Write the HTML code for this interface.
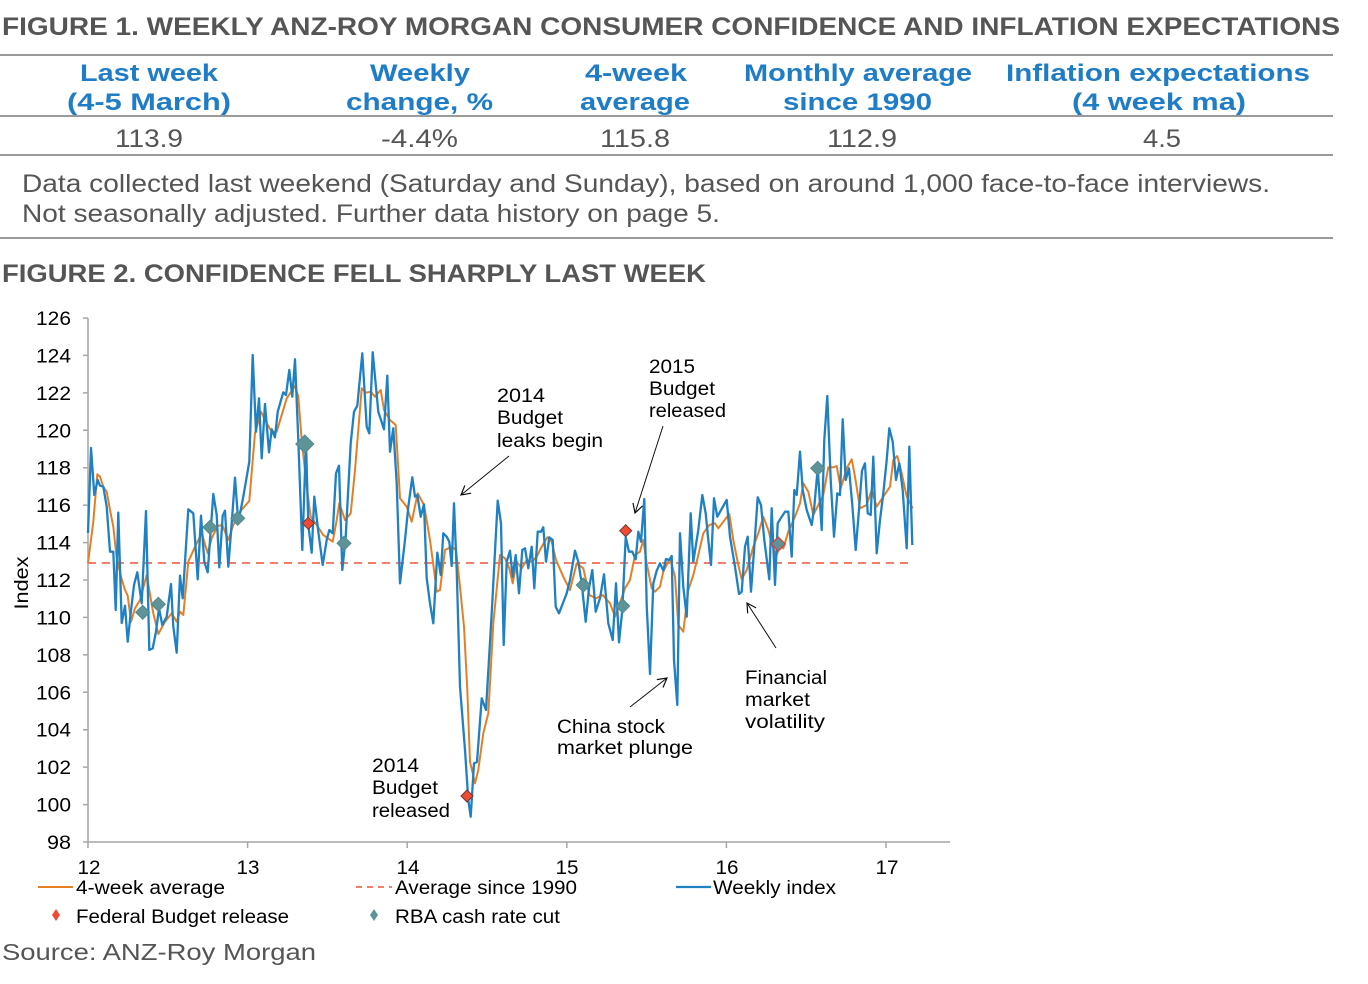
<!DOCTYPE html>
<html><head><meta charset="utf-8"><style>
html,body{margin:0;padding:0;background:#fff;}
svg{display:block;}
text{font-family:"Liberation Sans","DejaVu Sans",sans-serif;}
</style></head><body>
<svg width="1368" height="984" viewBox="0 0 1368 984" xmlns="http://www.w3.org/2000/svg">
<defs>
<marker id="ah" markerWidth="12" markerHeight="12" refX="10" refY="6" orient="auto" markerUnits="userSpaceOnUse">
<path d="M1,1 L10,6 L1,11" fill="none" stroke="#111" stroke-width="1.2"/>
</marker>
</defs>
<rect width="1368" height="984" fill="#fff"/>

<!-- Figure 1 title -->
<text x="2" y="35" font-size="25" font-weight="bold" fill="#555" textLength="1338" lengthAdjust="spacingAndGlyphs">FIGURE 1. WEEKLY ANZ-ROY MORGAN CONSUMER CONFIDENCE AND INFLATION EXPECTATIONS</text>

<!-- table lines -->
<g stroke="#9a9a9a" stroke-width="2">
<line x1="0" y1="55" x2="1333" y2="55"/>
<line x1="0" y1="116" x2="1333" y2="116"/>
<line x1="0" y1="155" x2="1333" y2="155"/>
<line x1="0" y1="238" x2="1333" y2="238"/>
</g>

<!-- header -->
<g font-size="24" font-weight="bold" fill="#1f7cc6">
<text x="80" y="81" textLength="138" lengthAdjust="spacingAndGlyphs">Last week</text>
<text x="67" y="110" textLength="164" lengthAdjust="spacingAndGlyphs">(4-5 March)</text>
<text x="370" y="81" textLength="100" lengthAdjust="spacingAndGlyphs">Weekly</text>
<text x="346" y="110" textLength="147" lengthAdjust="spacingAndGlyphs">change, %</text>
<text x="585" y="81" textLength="102" lengthAdjust="spacingAndGlyphs">4-week</text>
<text x="580" y="110" textLength="110" lengthAdjust="spacingAndGlyphs">average</text>
<text x="744" y="81" textLength="228" lengthAdjust="spacingAndGlyphs">Monthly average</text>
<text x="783" y="110" textLength="149" lengthAdjust="spacingAndGlyphs">since 1990</text>
<text x="1006" y="81" textLength="304" lengthAdjust="spacingAndGlyphs">Inflation expectations</text>
<text x="1072" y="110" textLength="174" lengthAdjust="spacingAndGlyphs">(4 week ma)</text>
</g>

<!-- values -->
<g font-size="25" fill="#555">
<text x="115" y="147" textLength="68" lengthAdjust="spacingAndGlyphs">113.9</text>
<text x="381" y="147" textLength="77" lengthAdjust="spacingAndGlyphs">-4.4%</text>
<text x="600" y="147" textLength="70" lengthAdjust="spacingAndGlyphs">115.8</text>
<text x="827" y="147" textLength="70" lengthAdjust="spacingAndGlyphs">112.9</text>
<text x="1143" y="147" textLength="38" lengthAdjust="spacingAndGlyphs">4.5</text>
</g>

<!-- note -->
<g font-size="25" fill="#555">
<text x="22" y="192" textLength="1248" lengthAdjust="spacingAndGlyphs">Data collected last weekend (Saturday and Sunday), based on around 1,000 face-to-face interviews.</text>
<text x="22" y="222" textLength="698" lengthAdjust="spacingAndGlyphs">Not seasonally adjusted. Further data history on page 5.</text>
</g>

<!-- Figure 2 title -->
<text x="2" y="282" font-size="25" font-weight="bold" fill="#555" textLength="704" lengthAdjust="spacingAndGlyphs">FIGURE 2. CONFIDENCE FELL SHARPLY LAST WEEK</text>

<!-- axes -->
<g stroke="#a6a6a6" stroke-width="1.5" fill="none">
<line x1="88" y1="318" x2="88" y2="842"/>
<line x1="88" y1="842" x2="950" y2="842"/>
<path d="M83,318H88M83,355.4H88M83,392.9H88M83,430.3H88M83,467.7H88M83,505.1H88M83,542.6H88M83,580H88M83,617.4H88M83,654.9H88M83,692.3H88M83,729.7H88M83,767.1H88M83,804.6H88M83,842H88"/>
<path d="M88,842V848M247.6,842V848M407.2,842V848M566.8,842V848M726.4,842V848M886,842V848"/>
</g>

<!-- y tick labels -->
<g font-size="19" fill="#000" text-anchor="end">
<text x="71" y="325" textLength="35" lengthAdjust="spacingAndGlyphs">126</text>
<text x="71" y="362.4" textLength="35" lengthAdjust="spacingAndGlyphs">124</text>
<text x="71" y="399.9" textLength="35" lengthAdjust="spacingAndGlyphs">122</text>
<text x="71" y="437.3" textLength="35" lengthAdjust="spacingAndGlyphs">120</text>
<text x="71" y="474.7" textLength="35" lengthAdjust="spacingAndGlyphs">118</text>
<text x="71" y="512.1" textLength="35" lengthAdjust="spacingAndGlyphs">116</text>
<text x="71" y="549.6" textLength="35" lengthAdjust="spacingAndGlyphs">114</text>
<text x="71" y="587" textLength="35" lengthAdjust="spacingAndGlyphs">112</text>
<text x="71" y="624.4" textLength="35" lengthAdjust="spacingAndGlyphs">110</text>
<text x="71" y="661.9" textLength="35" lengthAdjust="spacingAndGlyphs">108</text>
<text x="71" y="699.3" textLength="35" lengthAdjust="spacingAndGlyphs">106</text>
<text x="71" y="736.7" textLength="35" lengthAdjust="spacingAndGlyphs">104</text>
<text x="71" y="774.1" textLength="35" lengthAdjust="spacingAndGlyphs">102</text>
<text x="71" y="811.6" textLength="35" lengthAdjust="spacingAndGlyphs">100</text>
<text x="71" y="849" textLength="24" lengthAdjust="spacingAndGlyphs">98</text>
</g>
<!-- x tick labels -->
<g font-size="19" fill="#000" text-anchor="middle">
<text x="89" y="874" textLength="23" lengthAdjust="spacingAndGlyphs">12</text>
<text x="248" y="874" textLength="23" lengthAdjust="spacingAndGlyphs">13</text>
<text x="408" y="874" textLength="23" lengthAdjust="spacingAndGlyphs">14</text>
<text x="567" y="874" textLength="23" lengthAdjust="spacingAndGlyphs">15</text>
<text x="727" y="874" textLength="23" lengthAdjust="spacingAndGlyphs">16</text>
<text x="887" y="874" textLength="23" lengthAdjust="spacingAndGlyphs">17</text>
</g>
<text transform="translate(28,583) rotate(-90)" font-size="19" fill="#000" text-anchor="middle" textLength="53" lengthAdjust="spacingAndGlyphs">Index</text>

<!-- average line -->
<line x1="88" y1="563" x2="914" y2="563" stroke="#f37d6b" stroke-width="2" stroke-dasharray="8,6"/>

<!-- orange 4-week average -->
<polyline fill="none" stroke="#e57f26" stroke-width="2" stroke-linejoin="round" points="88,563 93.3,521.7 97.3,474.3 100,476.7 103.3,486.7 106.7,491.7 110,510 113.3,526.7 116.7,558.3 121.7,579.3 125,590 127.7,595.7 131,621.7 135,608.3 140,600 146.7,575 153.3,613.3 158.3,634 165,621.7 171.7,613.3 176.7,621.7 180,611.7 183.3,615 188.3,561.7 195,546.7 201.7,533.3 207.7,553.3 211.7,538.3 217.7,526 222.3,525 228.3,540 233.3,525 240,511.7 249.3,501 255,433.3 261,411.7 266.7,423.3 271.7,431.7 276.7,431.7 286.7,398.3 295,386 298.3,396.7 301.7,440 306.7,486.7 310.7,516.7 316.7,525 323.3,535 332.7,541.7 336.7,520 339.3,503.3 345,520 350.7,513.3 355,470 361.7,388.3 366,392.7 370.7,391.7 375,396.7 380.7,390 384,410 390,420 395.7,425 400,498.3 406.7,506.7 411.7,521.7 417.7,493.3 424,505 430,540 434,570 436.7,591.7 440,590 445,550 451.7,546.7 456,550 460,586.7 464,626.7 467.3,690 470,761.7 475,783.3 478.3,770 483.3,733.3 488.3,713.3 493.3,623.3 500,555 505,558.3 509.3,568.3 512.7,583.3 516.7,561.7 521.7,568.3 526.7,560 531.7,561.7 536.7,556.7 541.7,546.7 547.3,537.3 551.7,541.7 556,560 563.3,576.7 570,590 576.7,563.3 583.3,568.3 589.3,595 596,598.3 602.7,595 610,603.3 615,616.7 619.3,605 625,588.3 630,580 635,555 640,551.7 643.3,540 646.7,563.3 651.7,588.3 655,591.7 660,586.7 663.3,571.7 670,558.3 675,576.7 678.3,625 683.3,631.7 688.3,590 693.3,575 698.3,555 703.3,533.3 709.3,525 715,523.3 718.3,528.3 729.3,514 733.3,540 738.3,565 741.7,579.3 746.7,570 753.3,546.7 758.3,533.3 763.3,516.7 768.3,530 771.7,543.3 776,556.7 780,546 783.3,548.3 788.3,531.7 795,516.7 800,503.3 803.3,483.3 808.3,491.7 813.3,515 818.3,505 823.3,495 828.3,467.3 833.3,467.3 836.7,466 840.7,488.3 846.7,468.3 851.7,459.3 855,476.7 860,508.3 866.7,505 871.7,490 876.7,506.7 883.3,496.7 890,486.7 893.3,460 897.3,456 901.7,473.3 906.7,496.7 912.7,508.3"/>

<!-- blue weekly -->
<polyline fill="none" stroke="#1f80c2" stroke-width="2.3" stroke-linejoin="round" points="88,533 91,448 94.3,495 97.7,480 100,485.7 103.3,486.7 106.7,506.7 110,551.7 113.3,551.7 115.7,610 118.3,512.7 121.7,623 125,605.7 127.7,641.7 130.7,613.3 134,585 137.3,572.3 141.7,603.3 146,511 149.3,650 152.7,648.3 156,631.7 159,608.3 162.3,625 166.7,616.7 171,584 173.3,626.7 176.7,652.7 180,575.7 182.7,598.3 188.3,509.3 193.3,513.3 197.7,579.3 201,515.7 204.3,561.7 207.7,572.3 213.3,494 216.7,515 219.3,567.3 222.7,515.7 225,510.7 228.3,566.7 231.7,523.3 235,477.7 238.3,522.7 243.3,496.7 249.3,461.7 252.7,355 256,431.7 259,398.3 261.7,458.3 265,404 269,452.3 271.7,429.3 275,437.3 277.7,411.7 283.3,392.3 286,395 289.3,370 292.3,396.7 295,359.3 298.3,440 302.3,550 306,441.7 308.3,525 311.7,552.7 314.3,496.7 318.3,531.7 322.7,565 326.7,540 329.3,530 332.7,533.3 336,473.3 339,465.7 342.3,570 345.7,536.7 350.7,443.3 354,411.7 357.3,405.7 362.3,353.3 366.7,426.7 369.3,433.3 372.7,352.3 378.3,411.7 384,429.3 387.3,375.7 390,451.7 393.3,428.3 396.7,483.3 400,583.3 405,540 408.3,506.7 412.3,477.3 415,496.7 417.3,495 420.7,516.7 424,504.3 426.7,578.3 430,603.3 433.3,623.3 437.3,552.7 440.7,575 443.3,533.3 446.7,536.7 449.3,541.7 451.7,566 454,503.3 456.7,570 460,686.7 465,750 468.3,800 470.7,816.7 474,763.3 477,762 481.7,698.3 486,710 491.7,613.3 497.7,500.7 501,523.3 503.7,645 506.7,561.7 510,550.7 512.7,576.7 515.7,555 519,593.3 522.3,550 525,548.3 528.3,568.3 531.7,546.7 534.3,588.3 537.7,531.7 541,531.7 543.3,527.3 546,561.7 549.3,537.3 552.7,540 555.7,606.7 559,613.3 566.7,593.3 570,580 575,550.7 578.3,561.7 581.7,583.3 585.7,621.7 589,588.3 592.3,570 595.7,611.7 600,598.3 604,574.3 608.3,623.3 612.7,640 616,583.3 619,642.3 622.3,610 625.7,537.3 629,551.7 632.3,551.7 635.7,559.3 638.3,531.7 641,541.7 644.3,499 646.7,605 650,674 653.3,583.3 656.7,570.7 660,563.3 663.3,570.7 666,559 669.3,560 671.7,556 674,660 677.3,705 680,533.3 683.3,586.7 686.7,616.7 690.7,513.3 693.3,561.7 698.3,530 702.3,495 705.7,513.3 708.3,540 711,565 714,498.3 717.3,516.7 726.7,500 730,536.7 735,566.7 739,594 741.7,591.7 745,546.7 747.7,536.7 751,591.7 754.3,546.7 757.7,497.3 761,505 764.3,540 767.7,566.7 769.3,579.3 771.7,508.3 775,585 777.7,523.3 781.7,516.7 785,511.7 788.3,511.7 791.7,556.7 794.3,490 796.7,495 800,451.7 802.7,490 806.7,510 811.7,525 814.3,506.7 817.7,468.3 821.7,530 824.3,440 827.3,396 830.7,480 834,536.7 837.3,493.3 840,495 842.7,419.3 845.7,480 849,468.3 852.3,505 855.7,550 858.7,513.3 862,470.7 865,463.3 867.7,513.3 870.7,515 873.3,456.7 876.7,553.3 880,520 883.3,493.3 886.7,460 889.3,428.3 892.7,441.7 896,480 899.3,463.3 902.7,490 906.7,548.3 909.3,446.7 912.3,545"/>

<!-- RBA diamonds -->
<g fill="#5e9498" stroke="#4f8a92" stroke-width="1">
<path d="M142.7,605.3 L149.7,612.3 L142.7,619.3 L135.7,612.3Z"/>
<path d="M158.3,597.3 L165.3,604.3 L158.3,611.3 L151.3,604.3Z"/>
<path d="M210,520.3 L217,527.3 L210,534.3 L203,527.3Z"/>
<path d="M237.7,511.3 L244.7,518.3 L237.7,525.3 L230.7,518.3Z"/>
<path d="M304.8,435 L313.8,444 L304.8,453 L295.8,444Z"/>
<path d="M344,536.3 L351,543.3 L344,550.3 L337,543.3Z"/>
<path d="M583.3,578 L590.3,585 L583.3,592 L576.3,585Z"/>
<path d="M622.7,599 L629.7,606 L622.7,613 L615.7,606Z"/>
<path d="M817.7,461.3 L824.7,468.3 L817.7,475.3 L810.7,468.3Z"/>
</g>
<path d="M778.3,537 L785.3,544 L778.3,551 L771.3,544Z" fill="#5e9498" stroke="#e53a2c" stroke-width="1.2"/>
<!-- Budget diamonds -->
<g fill="#f04a34" stroke="#6a3a36" stroke-width="1">
<path d="M308.3,517.3 L314.3,523.3 L308.3,529.3 L302.3,523.3Z"/>
<path d="M467,790 L473,796 L467,802 L461,796Z"/>
<path d="M625.7,524.7 L631.7,530.7 L625.7,536.7 L619.7,530.7Z"/>
</g>

<!-- annotations -->
<g stroke="#111" stroke-width="1" fill="none">
<line x1="509" y1="456" x2="461" y2="495" marker-end="url(#ah)"/>
<line x1="663" y1="426" x2="635" y2="513" marker-end="url(#ah)"/>
<line x1="630" y1="707" x2="667" y2="678" marker-end="url(#ah)"/>
<line x1="776" y1="648" x2="747" y2="603" marker-end="url(#ah)"/>
</g>
<g font-size="19" fill="#000">
<text x="497" y="402" textLength="48" lengthAdjust="spacingAndGlyphs">2014</text>
<text x="497" y="424" textLength="66" lengthAdjust="spacingAndGlyphs">Budget</text>
<text x="497" y="447" textLength="106" lengthAdjust="spacingAndGlyphs">leaks begin</text>
<text x="649" y="373" textLength="46" lengthAdjust="spacingAndGlyphs">2015</text>
<text x="649" y="395" textLength="66" lengthAdjust="spacingAndGlyphs">Budget</text>
<text x="649" y="417" textLength="77" lengthAdjust="spacingAndGlyphs">released</text>
<text x="372" y="772" textLength="47" lengthAdjust="spacingAndGlyphs">2014</text>
<text x="372" y="794" textLength="66" lengthAdjust="spacingAndGlyphs">Budget</text>
<text x="372" y="817" textLength="78" lengthAdjust="spacingAndGlyphs">released</text>
<text x="557" y="733" textLength="108" lengthAdjust="spacingAndGlyphs">China stock</text>
<text x="557" y="754" textLength="136" lengthAdjust="spacingAndGlyphs">market plunge</text>
<text x="745" y="684" textLength="82" lengthAdjust="spacingAndGlyphs">Financial</text>
<text x="745" y="706" textLength="65" lengthAdjust="spacingAndGlyphs">market</text>
<text x="745" y="728" textLength="80" lengthAdjust="spacingAndGlyphs">volatility</text>
</g>

<!-- legend -->
<line x1="38" y1="887" x2="73" y2="887" stroke="#e57f26" stroke-width="2"/>
<line x1="356" y1="887" x2="392" y2="887" stroke="#f37d6b" stroke-width="2" stroke-dasharray="6,5"/>
<line x1="676" y1="887" x2="711" y2="887" stroke="#1f80c2" stroke-width="2.2"/>
<path d="M56,909 L60,915 L56,921 L52,915Z" fill="#f04a34"/>
<path d="M374,909 L378,915 L374,921 L370,915Z" fill="#5e9498"/>
<g font-size="19" fill="#000">
<text x="76" y="894" textLength="149" lengthAdjust="spacingAndGlyphs">4-week average</text>
<text x="395" y="894" textLength="182" lengthAdjust="spacingAndGlyphs">Average since 1990</text>
<text x="713" y="894" textLength="123" lengthAdjust="spacingAndGlyphs">Weekly index</text>
<text x="76" y="923" textLength="213" lengthAdjust="spacingAndGlyphs">Federal Budget release</text>
<text x="395" y="923" textLength="165" lengthAdjust="spacingAndGlyphs">RBA cash rate cut</text>
</g>

<text x="2" y="960" font-size="23" fill="#555" textLength="314" lengthAdjust="spacingAndGlyphs">Source: ANZ-Roy Morgan</text>
</svg>
</body></html>
